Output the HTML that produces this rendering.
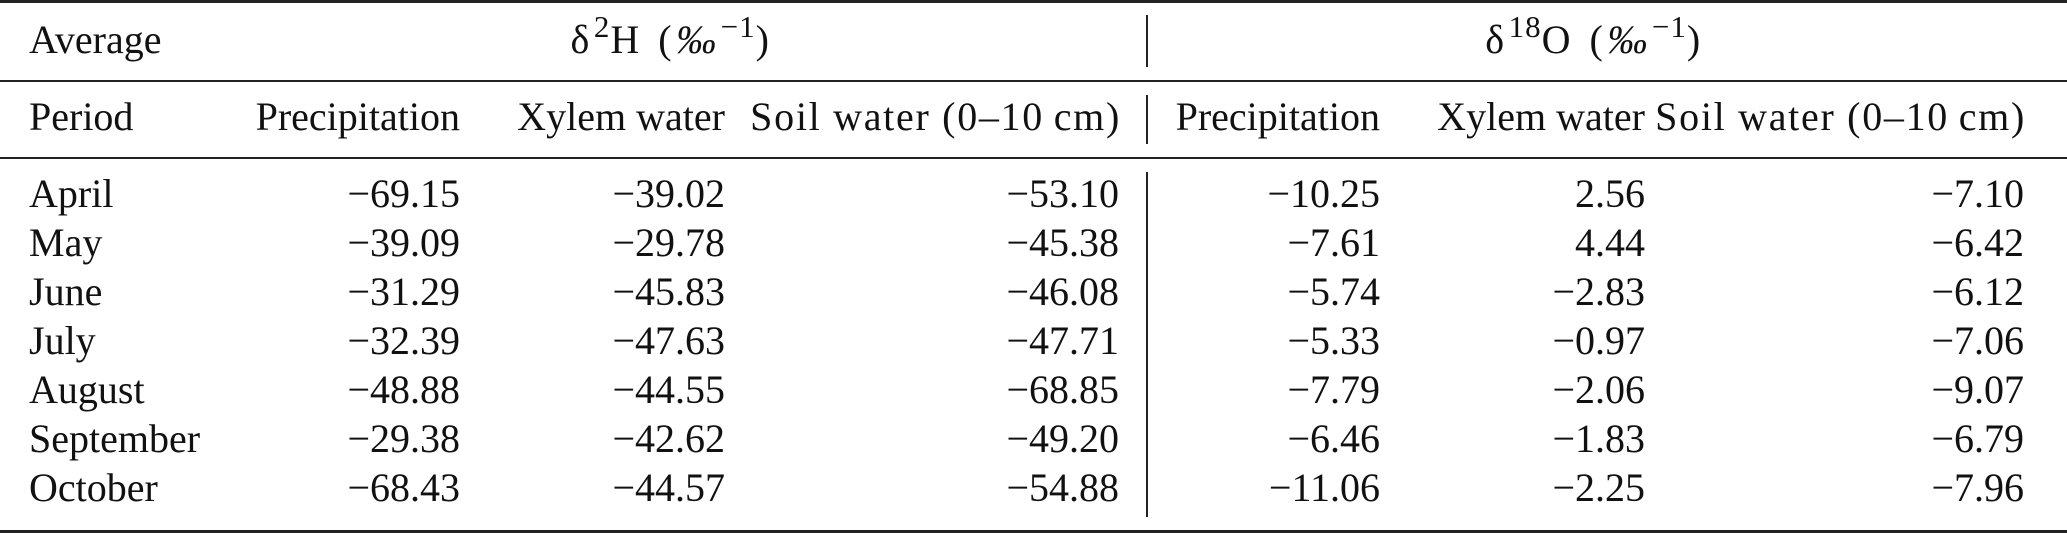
<!DOCTYPE html>
<html><head><meta charset="utf-8"><style>
html,body{margin:0;padding:0;background:#fff;}
#t{position:relative;width:2067px;height:533px;overflow:hidden;font-family:"Liberation Serif","DejaVu Serif",serif;font-size:40px;color:#111;}
.r{position:absolute;left:0;width:2067px;background:#222;}
.v{position:absolute;left:1146px;width:2px;background:#222;}
.c{position:absolute;height:44px;line-height:44px;white-space:nowrap;}
.l{text-align:left;}
.rt{text-align:right;}
.soil{letter-spacing:1.7px;}
.hd{letter-spacing:4.5px;}
sup{font-size:31px;line-height:0;vertical-align:16px;letter-spacing:1px;}
</style></head><body>
<div id="t">
<div class="r" style="top:0;height:3px"></div>
<div class="r" style="top:80px;height:2px"></div>
<div class="r" style="top:157px;height:2px"></div>
<div class="r" style="top:530px;height:3px"></div>
<div class="v" style="top:15px;height:52px"></div>
<div class="v" style="top:95px;height:49px"></div>
<div class="v" style="top:172px;height:345px"></div>
<div class="c l" style="left:29px;top:18px">Average</div>
<div class="c hd" style="left:520px;top:18px;width:304px;text-align:center">δ<sup>2</sup>H (<i>‰</i><sup>−1</sup>)</div>
<div class="c hd" style="left:1440px;top:18px;width:310px;text-align:center">δ<sup>18</sup>O (<i>‰</i><sup>−1</sup>)</div>
</div>
<script>
const periods=["April","May","June","July","August","September","October"];
const h2Precip=["−69.15","−39.09","−31.29","−32.39","−48.88","−29.38","−68.43"];
const h2Xylem=["−39.02","−29.78","−45.83","−47.63","−44.55","−42.62","−44.57"];
const h2Soil=["−53.10","−45.38","−46.08","−47.71","−68.85","−49.20","−54.88"];
const o18Precip=["−10.25","−7.61","−5.74","−5.33","−7.79","−6.46","−11.06"];
const o18Xylem=["2.56","4.44","−2.83","−0.97","−2.06","−1.83","−2.25"];
const o18Soil=["−7.10","−6.42","−6.12","−7.06","−9.07","−6.79","−7.96"];
const headers=["Precipitation","Xylem water","Soil water (0–10\u2009cm)","Precipitation","Xylem water","Soil water (0–10\u2009cm)"];
const t=document.getElementById('t');
const colRight=[460,725,1119,1380,1645,2024];
const cols=[h2Precip,h2Xylem,h2Soil,o18Precip,o18Xylem,o18Soil];
function cell(txt,x,cy,right){
  const d=document.createElement('div');
  d.className='c '+(right?'rt':'l');
  d.textContent=txt;
  d.style.top=(cy-23)+'px';
  if(right){d.style.right=(2067-x)+'px';}else{d.style.left=x+'px';}
  t.appendChild(d);return d;
}
let p=cell("Period",29,118,false);


headers.forEach((h,i)=>{
  const d=cell(h,colRight[i]+(i%3==2?2:0),118,true);
  if(i%3==2) d.classList.add('soil');
  
  
});
periods.forEach((m,r)=>{
  const cy=195+r*49;
  const d=cell(m,29,cy,false);
  
  
  cols.forEach((arr,c)=>{
    const e=cell(arr[r],colRight[c],cy,true);
    
    
  });
});
</script>
</body></html>
